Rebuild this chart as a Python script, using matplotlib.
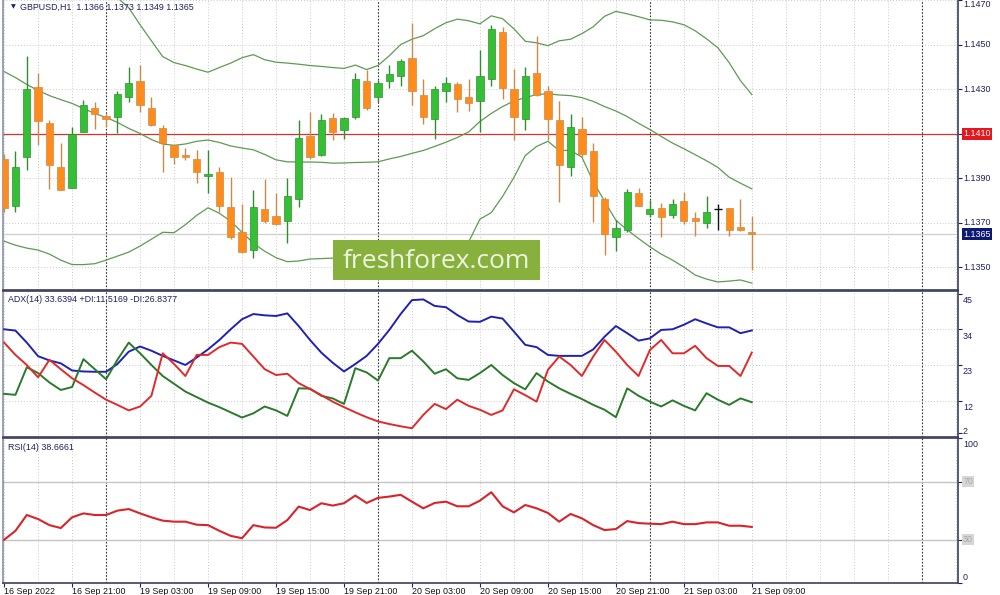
import matplotlib
matplotlib.use('Agg')
import matplotlib.pyplot as plt
import matplotlib.transforms as mtransforms
from matplotlib.patches import Rectangle
import numpy as np

plt.rcParams['font.family'] = ['Liberation Sans', 'DejaVu Sans']

# GBPUSD H1, bars from 16 Sep 15:00 to 21 Sep 09:00
opens = [1.13988, 1.13776, 1.13995, 1.14308, 1.14147, 1.13951, 1.13857, 1.14107, 1.14216, 1.14179,
         1.14177, 1.14267, 1.14338, 1.14216, 1.14127, 1.14048, 1.14006, 1.13988, 1.13909, 1.13928,
         1.13772, 1.13657, 1.13578, 1.13761, 1.13730, 1.13708, 1.13809, 1.14091, 1.14006, 1.14172,
         1.14115, 1.14177, 1.14338, 1.14267, 1.14335, 1.14358, 1.14440, 1.14276, 1.14167, 1.14291,
         1.14321, 1.14267, 1.14246, 1.14344, 1.14558, 1.14301, 1.14167, 1.14371, 1.14291, 1.14160,
         1.13951, 1.14122, 1.14021, 1.13809, 1.13637, 1.13667, 1.13832, 1.13738, 1.13769, 1.13734,
         1.13798, 1.13720, 1.13700, 1.13761, 1.13769, 1.13682, 1.13660]
highs = [1.14010, 1.14022, 1.14450, 1.14371, 1.14160, 1.14058, 1.14130, 1.14252, 1.14241, 1.14192,
         1.14291, 1.14398, 1.14410, 1.14267, 1.14137, 1.14051, 1.14037, 1.14028, 1.14028, 1.13951,
         1.13906, 1.13787, 1.13849, 1.13899, 1.13832, 1.13901, 1.14160, 1.14197, 1.14190, 1.14192,
         1.14177, 1.14371, 1.14386, 1.14342, 1.14409, 1.14436, 1.14599, 1.14346, 1.14316, 1.14356,
         1.14331, 1.14346, 1.14476, 1.14589, 1.14577, 1.14391, 1.14398, 1.14540, 1.14316, 1.14249,
         1.14190, 1.14174, 1.14058, 1.13816, 1.13712, 1.13854, 1.13858, 1.13805, 1.13790, 1.13809,
         1.13839, 1.13749, 1.13819, 1.13784, 1.13769, 1.13809, 1.13730]
lows = [1.13749, 1.13749, 1.13939, 1.14048, 1.13854, 1.13846, 1.13857, 1.14107, 1.14122, 1.14130,
        1.14103, 1.14241, 1.14197, 1.14134, 1.13928, 1.13966, 1.13981, 1.13879, 1.13832, 1.13749,
        1.13630, 1.13566, 1.13541, 1.13700, 1.13690, 1.13611, 1.13772, 1.13988, 1.13998, 1.14070,
        1.14078, 1.14167, 1.14207, 1.14241, 1.14306, 1.14316, 1.14227, 1.14145, 1.14078, 1.14241,
        1.14197, 1.14204, 1.14107, 1.14316, 1.14257, 1.14073, 1.14118, 1.14271, 1.14070, 1.13794,
        1.13909, 1.13995, 1.13704, 1.13556, 1.13575, 1.13660, 1.13775, 1.13727, 1.13637, 1.13724,
        1.13694, 1.13641, 1.13675, 1.13667, 1.13641, 1.13663, 1.13490]
closes = [1.13769, 1.13951, 1.14301, 1.14156, 1.13958, 1.13849, 1.14100, 1.14231, 1.14190, 1.14167,
          1.14279, 1.14328, 1.14230, 1.14137, 1.14058, 1.13995, 1.13995, 1.13928, 1.13918, 1.13776,
          1.13637, 1.13569, 1.13772, 1.13708, 1.13697, 1.13821, 1.14079, 1.13995, 1.14160, 1.14107,
          1.14172, 1.14346, 1.14216, 1.14326, 1.14368, 1.14428, 1.14291, 1.14177, 1.14301, 1.14326,
          1.14257, 1.14237, 1.14359, 1.14570, 1.14306, 1.14177, 1.14361, 1.14276, 1.14167, 1.13958,
          1.14130, 1.14007, 1.13819, 1.13648, 1.13679, 1.13839, 1.13778, 1.13761, 1.13727, 1.13787,
          1.13708, 1.13709, 1.13749, 1.13761, 1.13667, 1.13667, 1.13650]

# Bollinger bands
bb_upper = [1.14942, 1.14929, 1.14911, 1.14893, 1.14871, 1.14849, 1.14822, 1.14795, 1.14768, 1.14741,
            1.14710, 1.14665, 1.14589, 1.14517, 1.14446, 1.14419, 1.14406, 1.14390, 1.14376, 1.14397,
            1.14417, 1.14441, 1.14455, 1.14432, 1.14421, 1.14417, 1.14412, 1.14406, 1.14402, 1.14397,
            1.14393, 1.14408, 1.14388, 1.14406, 1.14450, 1.14500, 1.14524, 1.14540, 1.14571, 1.14598,
            1.14614, 1.14607, 1.14593, 1.14629, 1.14616, 1.14571, 1.14515, 1.14508, 1.14495, 1.14517,
            1.14524, 1.14549, 1.14580, 1.14627, 1.14649, 1.14638, 1.14625, 1.14611, 1.14609, 1.14602,
            1.14589, 1.14562, 1.14526, 1.14486, 1.14419, 1.14338, 1.14276]
bb_middle = [1.14379, 1.14352, 1.14321, 1.14294, 1.14271, 1.14253, 1.14236, 1.14213, 1.14191, 1.14173,
             1.14151, 1.14124, 1.14101, 1.14074, 1.14054, 1.14048, 1.14054, 1.14066, 1.14072, 1.14061,
             1.14045, 1.14036, 1.14028, 1.14007, 1.13983, 1.13974, 1.13973, 1.13973, 1.13972, 1.13968,
             1.13969, 1.13971, 1.13972, 1.13974, 1.13987, 1.13998, 1.14012, 1.14025, 1.14043, 1.14062,
             1.14083, 1.14108, 1.14155, 1.14191, 1.14222, 1.14247, 1.14262, 1.14276, 1.14279, 1.14274,
             1.14271, 1.14262, 1.14245, 1.14222, 1.14202, 1.14177, 1.14147, 1.14119, 1.14088, 1.14058,
             1.14033, 1.14006, 1.13979, 1.13949, 1.13905, 1.13878, 1.13853]
bb_lower = [1.13618, 1.13600, 1.13587, 1.13578, 1.13560, 1.13533, 1.13513, 1.13513, 1.13517, 1.13533,
            1.13551, 1.13569, 1.13596, 1.13627, 1.13658, 1.13656, 1.13692, 1.13734, 1.13768, 1.13743,
            1.13708, 1.13658, 1.13609, 1.13573, 1.13544, 1.13526, 1.13529, 1.13538, 1.13540, 1.13542,
            1.13538, 1.13533, 1.13529, 1.13524, 1.13524, 1.13524, 1.13529, 1.13538, 1.13547, 1.13564,
            1.13591, 1.13614, 1.13717, 1.13746, 1.13819, 1.13904, 1.14002, 1.14043, 1.14066, 1.14025,
            1.14025, 1.13995, 1.13885, 1.13797, 1.13712, 1.13669, 1.13630, 1.13593, 1.13560, 1.13533,
            1.13502, 1.13466, 1.13448, 1.13435, 1.13439, 1.13444, 1.13430]

# ADX(14)
adx = [34.0, 33.6, 29.9, 25.7, 24.4, 23.5, 21.3, 21.0, 20.9, 20.9,
       23.3, 27.1, 28.7, 27.4, 25.8, 24.4, 23.0, 25.3, 27.8, 30.7,
       34.0, 37.1, 38.7, 38.3, 38.1, 38.9, 35.0, 30.7, 26.8, 23.7,
       21.0, 23.3, 25.8, 29.5, 33.8, 38.7, 43.0, 43.2, 41.2, 40.8,
       38.4, 36.4, 36.3, 37.9, 37.3, 33.3, 29.2, 28.5, 26.1, 25.8,
       25.8, 25.8, 27.8, 31.7, 35.0, 32.8, 30.5, 31.2, 33.8, 34.0,
       35.4, 37.1, 35.8, 34.6, 34.6, 32.8, 33.64]
plus_di = [14.1, 13.8, 22.3, 20.5, 17.6, 15.3, 16.2, 24.8, 21.7, 18.6,
           24.6, 29.9, 26.6, 23.0, 19.6, 17.2, 14.8, 13.1, 11.4, 10.0,
           8.4, 6.8, 8.1, 10.2, 9.0, 7.3, 15.8, 15.7, 13.5, 12.7,
           11.0, 22.0, 20.7, 18.2, 25.1, 25.1, 27.4, 24.1, 20.3, 21.7,
           18.9, 18.4, 20.5, 23.0, 19.9, 17.4, 15.5, 20.5, 17.9, 15.8,
           14.1, 12.5, 10.7, 9.2, 6.9, 15.8, 13.5, 11.7, 10.2, 12.1,
           10.4, 9.0, 14.3, 12.3, 10.7, 12.7, 11.52]
minus_di = [29.9, 26.1, 23.0, 19.2, 24.6, 21.7, 18.9, 16.8, 14.5, 12.3,
            10.7, 9.0, 10.2, 13.5, 26.6, 23.3, 19.6, 26.1, 26.1, 28.5,
            29.9, 29.5, 25.6, 21.7, 19.9, 20.3, 17.4, 15.6, 13.7, 11.7,
            10.0, 8.4, 6.9, 5.6, 4.8, 4.1, 3.5, 7.6, 11.0, 9.4,
            12.3, 10.4, 9.2, 7.6, 9.0, 15.5, 13.7, 11.7, 21.5, 25.6,
            23.0, 19.6, 25.6, 30.7, 27.1, 23.0, 19.6, 27.6, 30.7, 26.6,
            26.6, 28.9, 25.1, 22.7, 22.7, 19.6, 26.84]

# RSI(14)
rsi = [29.8, 36.0, 46.9, 44.1, 39.9, 37.9, 45.3, 48.0, 46.9, 46.9,
       49.9, 51.0, 48.0, 45.3, 43.0, 42.3, 42.3, 40.2, 39.9, 36.0,
       32.5, 30.9, 39.9, 38.3, 38.1, 43.4, 52.7, 50.3, 55.0, 53.4,
       55.0, 60.3, 55.2, 58.7, 59.6, 60.8, 56.1, 51.5, 55.2, 56.1,
       52.9, 52.9, 56.8, 62.6, 52.9, 48.7, 53.8, 51.5, 48.3, 42.3,
       47.6, 44.6, 39.9, 36.5, 37.2, 42.7, 41.3, 40.9, 40.6, 42.3,
       40.6, 40.6, 41.8, 41.8, 39.5, 39.5, 38.67]

time_labels = ['16 Sep 2022', '16 Sep 21:00', '19 Sep 03:00', '19 Sep 09:00', '19 Sep 15:00',
               '19 Sep 21:00', '20 Sep 03:00', '20 Sep 09:00', '20 Sep 15:00', '20 Sep 21:00',
               '21 Sep 03:00', '21 Sep 09:00']
label_bars = [0, 6, 12, 18, 24, 30, 36, 42, 48, 54, 60, 66]
separator_bars = [9, 33, 57, 81]
price_ticks = [1.1470, 1.1450, 1.1430, 1.1390, 1.1370, 1.1350]
adx_ticks = [45, 34, 23, 12, 2]
level_price = 1.1410
bid_price = 1.1365

W, H = 1000, 595
fig = plt.figure(figsize=(W / 100, H / 100), dpi=100)
fig.patch.set_facecolor('white')


def px_axes(x0, y0, x1, y1):
    return fig.add_axes([x0 / W, 1 - y1 / H, (x1 - x0) / W, (y1 - y0) / H])


ax1 = px_axes(3, 0, 958, 290)
ax2 = px_axes(3, 291, 958, 437)
ax3 = px_axes(3, 438, 958, 583)

navy = '#1c2060'
grid_col = '#c9c9c9'
xlim = (-0.1, 84.2)
idx = np.arange(len(opens))

for ax in (ax1, ax2, ax3):
    ax.set_xlim(*xlim)
    ax.set_facecolor('white')
    for s in ax.spines.values():
        s.set_color('#3a3f5c')
        s.set_linewidth(1.2)
    ax.spines['left'].set_color('#8a8fa8')
    ax.tick_params(left=False, bottom=False, labelleft=False, labelbottom=False)
    ax.yaxis.set_ticks_position('right')
    ax.tick_params(axis='y', right=True, length=3, direction='out', color=navy, labelright=False)
    for b in range(0, 85, 3):
        if b not in separator_bars:
            ax.axvline(b, color=grid_col, lw=0.7, ls=(0, (1, 2)), zorder=0)
    for b in separator_bars:
        ax.axvline(b, color='#333333', lw=0.8, ls=(0, (1.5, 1.5)), zorder=1)
ax1.spines['top'].set_visible(False)


def right_text(ax, y, s, dy=0, **kw):
    base = mtransforms.blended_transform_factory(ax.transAxes, ax.transData)
    tr = mtransforms.offset_copy(base, fig=fig, x=5, y=dy, units='dots')
    opts = dict(fontsize=6.4, color=navy, ha='left', va='center', clip_on=False)
    opts.update(kw)
    ax.text(1.0, y, s, transform=tr, **opts)


# ---- price panel
ax1.set_ylim(1.13399, 1.14696)
ax1.set_yticks(price_ticks + [level_price])
for p in price_ticks + [level_price]:
    ax1.axhline(p, color=grid_col, lw=0.7, ls=(0, (1, 2)), zorder=0)
ax1.axhline(bid_price, color='#cfcfcf', lw=0.9, zorder=1)
ax1.axhline(level_price, color='#d8322e', lw=0.9, zorder=2)

bb_col = '#5f9a52'
ax1.plot(idx, bb_upper, color=bb_col, lw=0.9, zorder=2)
ax1.plot(idx, bb_middle, color=bb_col, lw=0.9, zorder=2)
ax1.plot(idx, bb_lower, color=bb_col, lw=0.9, zorder=2)

green, green_w = '#34bf34', '#2f8f2f'
orange, orange_w = '#ff8c1a', '#c98a4a'
for i in idx:
    o, h, l, c = opens[i], highs[i], lows[i], closes[i]
    if c > o:
        body, wick = green, green_w
    elif c < o:
        body, wick = orange, orange_w
    else:
        body = wick = '#111111'
    ax1.vlines(i, l, h, color=wick, lw=1.0, zorder=3)
    if c == o:
        ax1.hlines(c, i - 0.33, i + 0.33, color=body, lw=1.0, zorder=4)
    else:
        ax1.bar(i, max(abs(c - o), 0.00002), 0.64, bottom=min(o, c), color=body,
                edgecolor=wick, lw=0.5, zorder=4)

for p in price_ticks:
    # the top label sits against the upper edge, nudge it inside
    right_text(ax1, p, '%.4f' % p, dy=(-4 if p == price_ticks[0] else 0))
right_text(ax1, level_price, '%.4f' % level_price, color='white',
           bbox=dict(boxstyle='square,pad=0.15', facecolor='#e3171d', edgecolor='none'))
right_text(ax1, bid_price, '%.4f' % bid_price, color='white',
           bbox=dict(boxstyle='square,pad=0.15', facecolor='#0c1a72', edgecolor='none'))

ax1.text(8 / 955, 1 - 7 / 290, '\u25bc', transform=ax1.transAxes, fontsize=4.5, color=navy,
         ha='left', va='center', family='DejaVu Sans')
ax1.text(17 / 955, 1 - 7 / 290, 'GBPUSD,H1  1.1366 1.1373 1.1349 1.1365', transform=ax1.transAxes,
         fontsize=6.4, color=navy, ha='left', va='center')

# ---- ADX panel
ax2.set_ylim(0.8, 45.8)
ax2.set_yticks(adx_ticks)
for v in (34, 23, 12):
    ax2.axhline(v, color=grid_col, lw=0.7, ls=(0, (1, 2)), zorder=0)
ax2.plot(idx, adx, color='#1f22b0', lw=1.4, zorder=3)
ax2.plot(idx, plus_di, color='#2a7a2a', lw=1.4, zorder=3)
ax2.plot(idx, minus_di, color='#e02a2a', lw=1.4, zorder=3)
for v in adx_ticks:
    right_text(ax2, v, str(v), dy=(2 if v == 2 else -7))
ax2.text(5 / 955, 1 - 8 / 146, 'ADX(14) 33.6394 +DI:11.5169 -DI:26.8377', transform=ax2.transAxes,
         fontsize=6.4, color=navy, ha='left', va='center')

# ---- RSI panel
ax3.set_ylim(0, 100)
ax3.set_yticks([100, 70, 30, 0])
ax3.axhline(70, color='#c4c4c4', lw=1.0, zorder=1)
ax3.axhline(30, color='#c4c4c4', lw=1.0, zorder=1)
ax3.plot(idx, rsi, color='#d9232b', lw=1.5, zorder=3)
right_text(ax3, 100, '100', dy=-6.5)
right_text(ax3, 0, '0', dy=6)
for v in (70, 30):
    right_text(ax3, v, str(v), color='#a9a9a9',
               bbox=dict(boxstyle='square,pad=0.15', facecolor='#d6d6d6', edgecolor='none'))
ax3.text(5 / 955, 1 - 9 / 145, 'RSI(14) 38.6661', transform=ax3.transAxes,
         fontsize=6.4, color=navy, ha='left', va='center')

ax3.set_xticks(label_bars)
ax3.tick_params(axis='x', bottom=True, length=3, direction='out', color=navy)
for b, s in zip(label_bars, time_labels):
    tr = mtransforms.offset_copy(ax3.get_xaxis_transform(), fig=fig, x=0, y=-8, units='dots')
    ax3.text(b, 0, s, transform=tr, fontsize=6.4, color='#111111', ha='left', va='center',
             clip_on=False)

# ---- watermark
fig.add_artist(Rectangle((333 / W, 1 - 280 / H), 207 / W, 40 / H, transform=fig.transFigure,
                         facecolor='#87b13c', edgecolor='none', zorder=10))
fig.text(436.5 / W, 1 - 261 / H, 'freshforex.com', ha='center', va='center', fontsize=19,
         color='#eef4e2', family='Open Sans', zorder=11)

fig.savefig('out.png', dpi=100, facecolor='white')
